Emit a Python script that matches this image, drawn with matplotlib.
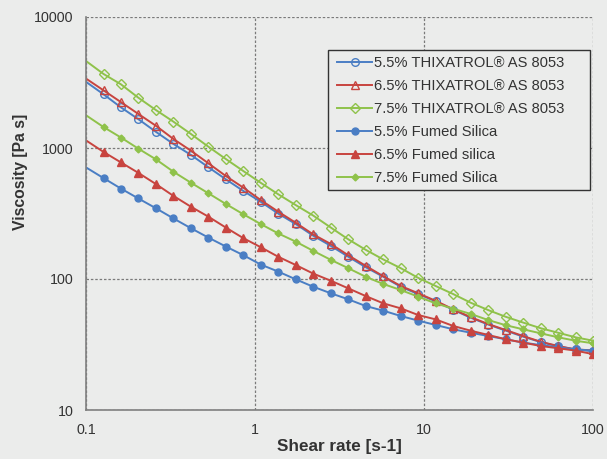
import matplotlib
matplotlib.use("Agg")
import matplotlib.pyplot as plt
from matplotlib.patches import Rectangle
from matplotlib.ticker import FixedLocator, FixedFormatter, NullLocator

plt.rcParams['font.family'] = ['Liberation Sans', 'DejaVu Sans']

shear_rate = [0.1, 0.127, 0.161, 0.204, 0.259, 0.329, 0.418, 0.530, 0.672, 0.853,
              1.08, 1.37, 1.74, 2.21, 2.81, 3.56, 4.52, 5.74, 7.28, 9.24,
              11.7, 14.9, 18.9, 24.0, 30.4, 38.6, 49.0, 62.1, 78.8, 100.0]

thix_55 = [3199, 2570, 2042, 1660, 1330, 1074, 885, 713, 577, 470,
           389, 316, 263, 214, 179, 148, 123, 104, 87.3, 76.7,
           67.6, 58.2, 50.6, 44.9, 40.4, 36.3, 33.0, 30.6, 29.0, 28.1]
thix_65 = [3388, 2754, 2239, 1820, 1479, 1172, 953, 764, 611, 498,
           401, 327, 269, 219, 185, 152, 126, 105, 88.5, 77.8,
           68.2, 58.7, 51.1, 45.3, 40.8, 36.7, 33.2, 30.8, 29.0, 28.5]
thix_75 = [4613, 3673, 3062, 2421, 1950, 1589, 1279, 1023, 824, 667,
           543, 444, 367, 305, 247, 201, 167, 141, 121, 102,
           88.5, 76.7, 65.9, 57.9, 51.5, 46.5, 42.1, 38.9, 35.9, 33.8]
fumed_55 = [711, 589, 490, 412, 347, 290, 244, 207, 177, 152,
            129, 114, 99.5, 87.3, 77.8, 70.0, 62.2, 57.3, 52.2, 48.1,
            44.6, 41.3, 38.9, 36.7, 34.7, 32.7, 31.3, 30.1, 29.0, 28.4]
fumed_65 = [1143, 933, 776, 646, 531, 431, 356, 299, 247, 205,
            175, 148, 128, 110, 97.0, 84.9, 74.1, 65.2, 59.7, 53.1,
            49.2, 43.8, 40.3, 37.4, 34.7, 32.7, 30.8, 29.6, 28.4, 26.7]
fumed_75 = [1778, 1445, 1202, 989, 820, 659, 543, 451, 374, 312,
            263, 223, 193, 164, 140, 121, 104, 91.6, 82.4, 73.3,
            65.2, 59.3, 54.1, 48.6, 44.4, 41.3, 38.5, 35.9, 33.8, 32.3]

labels = ["5.5% THIXATROL® AS 8053", "6.5% THIXATROL® AS 8053", "7.5% THIXATROL® AS 8053",
          "5.5% Fumed Silica", "6.5% Fumed silica", "7.5% Fumed Silica"]

x_ticks = [0.1, 1, 10, 100]
x_tick_labels = ["0.1", "1", "10", "100"]
y_ticks = [10, 100, 1000, 10000]
y_tick_labels = ["10", "100", "1000", "10000"]

BG = "#ebeceb"
BLUE = "#4a7ec4"
RED = "#c8443f"
GREEN = "#8fc24a"

fig = plt.figure(figsize=(6.07, 4.59), dpi=100, facecolor=BG)
ax = fig.add_axes([86/607, 1-410/459, (593-86)/607, (410-17)/459], facecolor=BG)

series = [
    (thix_55, BLUE, 'o', 'none', 5.5),
    (thix_65, RED, '^', 'none', 5.5),
    (thix_75, GREEN, 'D', 'none', 5.0),
    (fumed_55, BLUE, 'o', BLUE, 5.0),
    (fumed_65, RED, '^', RED, 5.5),
    (fumed_75, GREEN, 'D', GREEN, 3.5),
]
for (vals, col, mk, fc, ms), lab in zip(series, labels):
    ax.plot(shear_rate, vals, color=col, lw=1.4, marker=mk, ms=ms,
            markerfacecolor=fc, markeredgecolor=col, markeredgewidth=1.0,
            markevery=slice(1, None), label=lab)

ax.set_xscale('log')
ax.set_yscale('log')
ax.set_xlim(0.1, 100)
ax.set_ylim(10, 10000)
ax.xaxis.set_major_locator(FixedLocator(x_ticks))
ax.xaxis.set_major_formatter(FixedFormatter(x_tick_labels))
ax.yaxis.set_major_locator(FixedLocator(y_ticks))
ax.yaxis.set_major_formatter(FixedFormatter(y_tick_labels))
ax.xaxis.set_minor_locator(NullLocator())
ax.yaxis.set_minor_locator(NullLocator())
ax.tick_params(length=0, labelsize=10.3, labelcolor="#333333")
ax.tick_params(axis='x', pad=9)
ax.tick_params(axis='y', pad=9)

ax.grid(True, color="#7a7a7a", linestyle=(0, (2, 1.5)), linewidth=0.9)
ax.set_axisbelow(True)
for s in ['top', 'right']:
    ax.spines[s].set_visible(False)
for s in ['left', 'bottom']:
    ax.spines[s].set_color("#7f7f7f")
    ax.spines[s].set_linewidth(1.2)

ax.set_xlabel("Shear rate [s-1]", fontsize=12.3, fontweight='bold', color="#333333", labelpad=2)
ax.set_ylabel("Viscosity [Pa s]", fontsize=11.3, fontweight='bold', color="#333333", labelpad=8)
ax.yaxis.set_label_coords(-0.115, (410-172)/393)

# legend frame (Excel-style box with extra right margin)
box = Rectangle((328/607, 1-190/459), 262/607, 140/459, transform=fig.transFigure,
                facecolor=BG, edgecolor="#333333", linewidth=1.0, zorder=4.5, clip_on=False)
ax.add_patch(box)

leg = ax.legend(loc='upper left', bbox_to_anchor=(337/607, 1-56/459), bbox_transform=fig.transFigure,
                fontsize=10.6, frameon=False, handlelength=2.4, handletextpad=0.1,
                borderpad=0, labelspacing=0.61, borderaxespad=0)
leg.set_zorder(5)
for t in leg.get_texts():
    t.set_color("#333333")

fig.savefig("out.png", dpi=100, facecolor=BG)
